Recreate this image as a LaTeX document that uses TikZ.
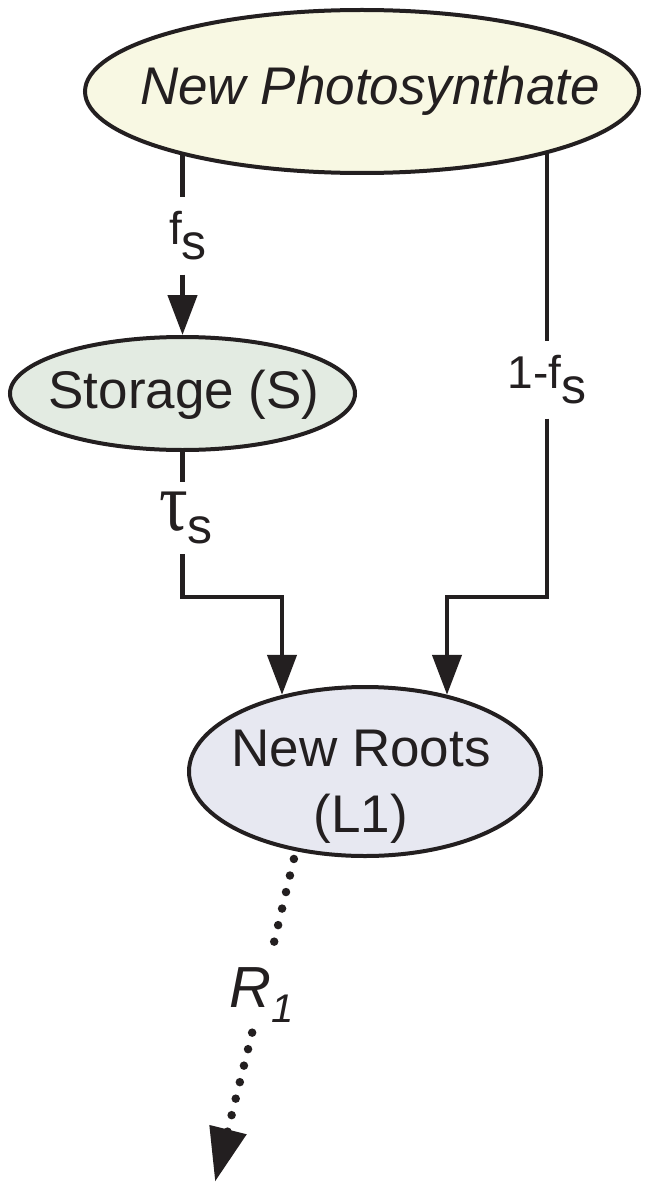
\documentclass[tikz,border=0pt]{standalone}
\usepackage{fontspec}
\setmainfont{Liberation Sans}
\newfontfamily\greekserif{Liberation Serif}
\usetikzlibrary{shapes.geometric,arrows.meta,backgrounds}

\definecolor{inkc}{HTML}{231F20}
\definecolor{photofill}{HTML}{F8F8E3}
\definecolor{storefill}{HTML}{E3EBE2}
\definecolor{rootfill}{HTML}{E7E8F1}

\tikzset{
  pool/.style={ellipse, draw=inkc, line width=4pt, inner sep=0pt},
  pooltext/.style={inner sep=0pt, text=inkc, font=\fontsize{53}{66}\selectfont},
  flow/.style={draw=inkc, line width=4.5pt},
  flowtip/.style={-{Triangle[length=40pt,width=29pt]}},
  ratelabel/.style={inner xsep=4pt, inner ysep=14pt, text=inkc},
  lossflow/.style={draw=inkc, line width=8.5pt, line cap=round, dash pattern=on 0pt off 17pt},
}

\begin{document}
\begin{tikzpicture}[x=1pt,y=-1pt]
\useasboundingbox (0,0) rectangle (646,1185);

% pools
\node[pool, fill=photofill, minimum width=554pt, minimum height=163pt] (photo) at (362,91.5) {};
\node[pooltext, anchor=base] (photoText) at (370,105) {\itshape New Photosynthate};

\node[pool, fill=storefill, minimum width=345pt, minimum height=113pt] (store) at (182.5,393.5) {};
\node[pooltext, anchor=base] (storeText) at (184,408) {Storage (S)};

\node[pool, fill=rootfill, minimum width=352pt, minimum height=169pt] (roots) at (365,771.5) {};
\node[pooltext, align=center] (rootsText) at (361,786.5) {New Roots\\(L1)};

% rate labels sitting in the gaps of the flows
\node[ratelabel] (fs) at (188,236)
  {\fontsize{46}{46}\selectfont f\raisebox{-15pt}{\fontsize{50}{50}\selectfont s}};
\node[ratelabel] (notfs) at (547,380)
  {\fontsize{46}{46}\selectfont 1-f\raisebox{-15pt}{\fontsize{50}{50}\selectfont s}};
\node[ratelabel, inner ysep=10pt] (taus) at (186,518)
  {\scalebox{0.85}[1]{\greekserif\fontsize{84}{84}\selectfont τ}\raisebox{-13pt}{\fontsize{50}{50}\selectfont s}};
\node[ratelabel, inner ysep=10pt] (r1) at (261.5,995)
  {\fontsize{58}{58}\selectfont\itshape R\raisebox{-15pt}{\fontsize{40}{40}\selectfont 1}};

% bends and free end
\coordinate (jl) at (282,597);
\coordinate (jr) at (447,597);
\coordinate (lossEnd) at (215,1182);

% flows leaving the pools start behind them
\begin{scope}[on background layer]
  \draw[flow] (store.center |- photo.center) -- (store.center |- fs.north);
  \draw[flow] (notfs |- photo.center) -- (notfs);
  \draw[flow] (store.center) -- (store.center |- taus.north);
\end{scope}

\draw[flow, flowtip] (store.center |- fs.south) -- (store);
\draw[flow, flowtip] (store.center |- taus.south) |- (jl) -- (jl |- roots.137.34);
\draw[flow, flowtip] (notfs) |- (jr) -- (jr |- roots.43.13);

% loss from new roots
\draw[lossflow, shorten <=8pt] (roots.229.8) -- (r1);
\draw[lossflow, -{Triangle[length=54pt,width=36pt]}] (r1) -- (lossEnd);
\end{tikzpicture}
\end{document}
